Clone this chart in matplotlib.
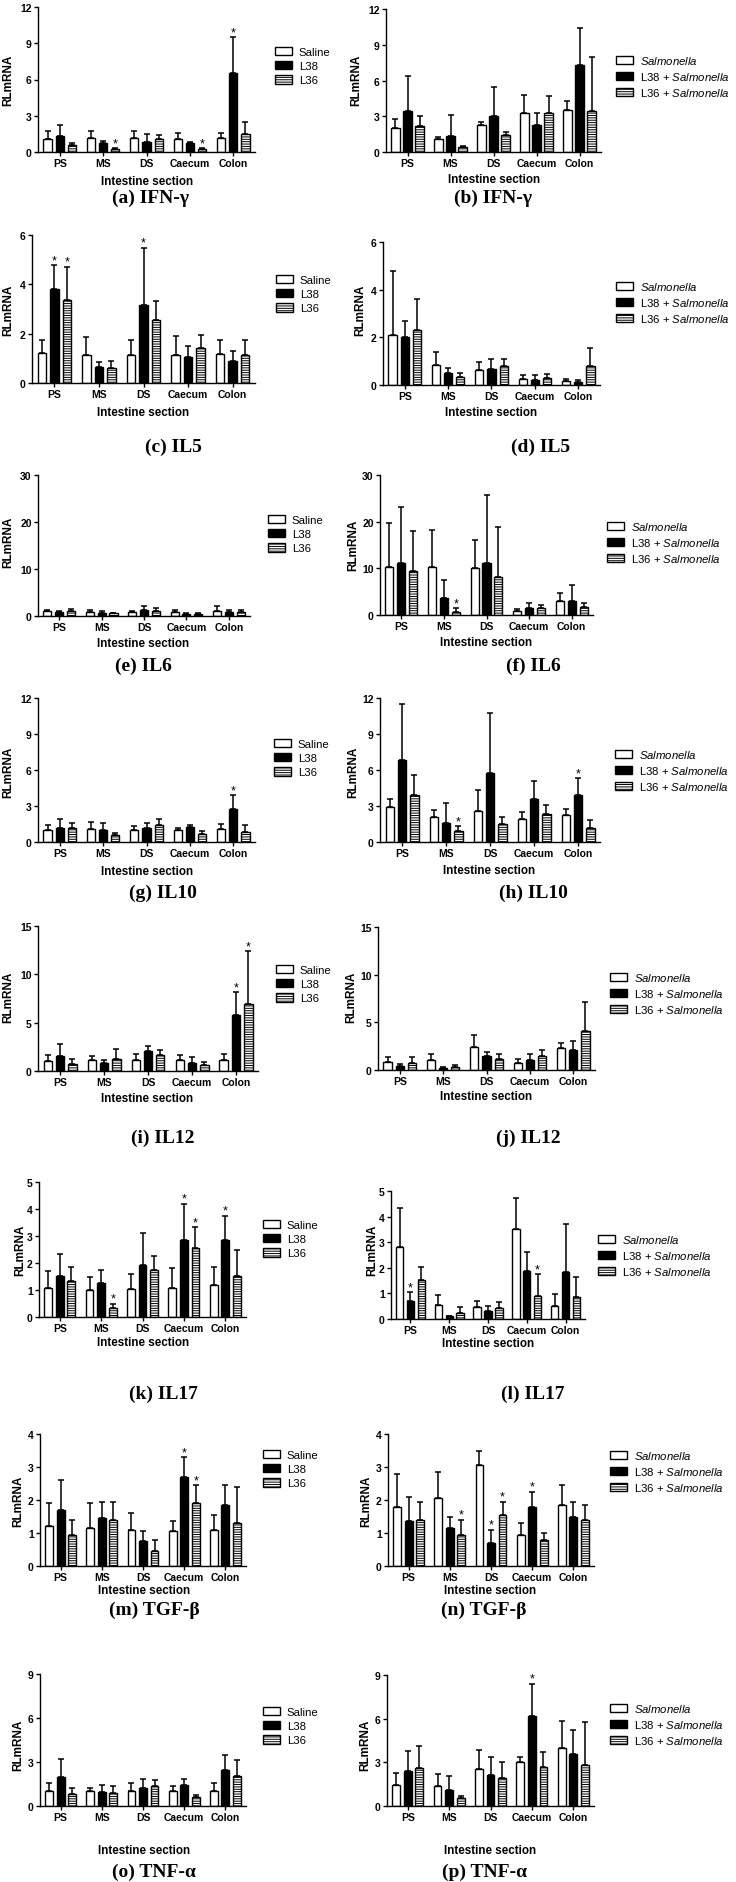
import matplotlib
matplotlib.use('Agg')
import matplotlib.pyplot as plt
from matplotlib.patches import Patch

plt.rcParams['font.family'] = ['Liberation Sans', 'DejaVu Sans']
plt.rcParams['mathtext.fontset'] = 'custom'
plt.rcParams['mathtext.rm'] = 'Liberation Sans'
plt.rcParams['mathtext.it'] = 'Liberation Sans:italic'
plt.rcParams['hatch.linewidth'] = 0.7

# intestine sections (x categories)
sections = ['PS', 'MS', 'DS', 'Caecum', 'Colon']
saline_labels = ['Saline', 'L38', 'L36']
salm_labels = [r'$\mathit{Salmonella}$', r'L38 + $\mathit{Salmonella}$', r'L36 + $\mathit{Salmonella}$']

# each panel: means per group [ctrl, L38, L36] and top of the (upper) error bar
ifng_a = [[1.1, 1.15, 1.15, 1.1, 1.15], [1.3, 0.75, 0.85, 0.75, 6.55], [0.6, 0.28, 1.05, 0.28, 1.45]]
ifng_a_top = [[1.7, 1.7, 1.7, 1.6, 1.6], [2.25, 0.95, 1.45, 0.85, 9.5], [0.75, 0.32, 1.4, 0.32, 2.45]]
ifng_a_stars = [(2, 1), (2, 3), (1, 4)]

ifng_b = [[2.05, 1.05, 2.3, 3.3, 3.5], [3.45, 1.35, 3.05, 2.3, 7.3], [2.2, 0.38, 1.4, 3.3, 3.4]]
ifng_b_top = [[2.75, 1.3, 2.55, 4.8, 4.3], [6.4, 3.1, 5.45, 3.3, 10.4], [3.05, 0.5, 1.7, 4.7, 8.0]]
ifng_b_stars = []

il5_c = [[1.2, 1.13, 1.12, 1.13, 1.16], [3.8, 0.66, 3.15, 1.04, 0.88], [3.37, 0.6, 2.57, 1.43, 1.15]]
il5_c_top = [[1.75, 1.86, 1.73, 1.89, 1.75], [4.78, 0.86, 5.48, 1.51, 1.28], [4.72, 0.88, 3.33, 1.94, 1.75]]
il5_c_stars = [(1, 0), (2, 0), (1, 2)]

il5_d = [[2.1, 0.83, 0.63, 0.27, 0.17], [2.01, 0.52, 0.66, 0.2, 0.12], [2.31, 0.35, 0.78, 0.31, 0.8]]
il5_d_top = [[4.78, 1.4, 0.96, 0.4, 0.24], [2.69, 0.73, 1.08, 0.4, 0.2], [3.59, 0.52, 1.08, 0.45, 1.54]]
il5_d_stars = []

il6_e = [[1.0, 0.9, 0.85, 0.85, 1.0], [0.8, 0.65, 1.2, 0.4, 0.85], [1.0, 0.55, 1.15, 0.45, 0.8]]
il6_e_top = [[1.35, 1.2, 1.05, 1.35, 2.05], [1.1, 1.0, 2.05, 0.55, 1.3], [1.4, 0.7, 1.7, 0.55, 1.25]]
il6_e_stars = []

il6_f = [[10.2, 10.2, 10.0, 0.95, 3.05], [11.05, 3.55, 11.05, 1.55, 2.95], [9.5, 0.7, 8.2, 1.45, 1.8]]
il6_f_top = [[19.7, 18.2, 16.15, 1.3, 4.65], [23.1, 7.6, 25.8, 2.55, 6.45], [18.1, 1.45, 18.8, 2.15, 2.55]]
il6_f_stars = [(2, 1)]

il10_g = [[1.03, 1.1, 1.0, 1.0, 1.1], [1.17, 1.03, 1.17, 1.25, 2.78], [1.17, 0.55, 1.4, 0.67, 0.83]]
il10_g_top = [[1.45, 1.65, 1.33, 1.17, 1.47], [1.95, 1.55, 1.6, 1.45, 3.9], [1.6, 0.78, 1.95, 0.92, 1.39]]
il10_g_stars = [(1, 4)]

il10_h = [[2.94, 2.05, 2.55, 1.94, 2.22], [6.87, 1.6, 5.76, 3.6, 3.88], [3.88, 0.89, 1.52, 2.33, 1.19]]
il10_h_top = [[3.6, 2.66, 4.3, 2.49, 2.77], [11.5, 3.24, 10.75, 5.12, 5.32], [5.6, 1.33, 2.08, 3.1, 1.8]]
il10_h_stars = [(2, 1), (1, 4)]

il12_i = [[1.04, 1.14, 1.11, 1.11, 1.14], [1.56, 0.8, 2.08, 0.87, 5.78], [0.76, 1.28, 1.63, 0.59, 6.93]]
il12_i_top = [[1.63, 1.56, 1.73, 1.63, 1.77], [2.84, 1.14, 2.6, 1.45, 8.14], [1.21, 2.25, 2.15, 0.94, 12.37]]
il12_i_stars = [(1, 4), (2, 4)]

il12_j = [[0.84, 1.05, 2.46, 0.77, 2.35], [0.42, 0.25, 1.48, 1.05, 2.07], [0.77, 0.35, 1.19, 1.48, 4.04]]
il12_j_top = [[1.4, 1.65, 3.69, 1.19, 2.81], [0.6, 0.35, 1.93, 1.72, 3.06], [1.33, 0.53, 1.69, 2.1, 7.1]]
il12_j_stars = []

il17_k = [[1.07, 0.99, 1.05, 1.09, 1.17], [1.51, 1.27, 1.91, 2.84, 2.84], [1.33, 0.33, 1.73, 2.56, 1.53]]
il17_k_top = [[1.7, 1.47, 1.58, 1.83, 1.85], [2.35, 1.75, 3.12, 4.2, 3.74], [1.85, 0.49, 2.27, 3.33, 2.47]]
il17_k_stars = [(2, 1), (1, 3), (2, 3), (1, 4)]

il17_l = [[2.81, 0.55, 0.48, 3.51, 0.52], [0.72, 0.1, 0.33, 1.89, 1.83], [1.54, 0.22, 0.42, 0.89, 0.87]]
il17_l_top = [[4.32, 0.94, 0.72, 4.74, 0.97], [1.05, 0.13, 0.52, 2.61, 3.71], [2.02, 0.48, 0.68, 1.74, 1.66]]
il17_l_stars = [(1, 0), (2, 3)]

tgfb_m = [[1.2, 1.15, 1.1, 1.05, 1.1], [1.7, 1.45, 0.75, 2.7, 1.85], [0.95, 1.4, 0.45, 1.9, 1.3]]
tgfb_m_top = [[1.9, 1.9, 1.6, 1.35, 1.55], [2.6, 1.95, 1.05, 3.3, 2.45], [1.4, 1.95, 0.8, 2.45, 2.4]]
tgfb_m_stars = [(1, 3), (2, 3)]

tgfb_n = [[1.8, 2.05, 3.05, 0.95, 1.85], [1.35, 1.15, 0.7, 1.8, 1.5], [1.4, 0.95, 1.55, 0.8, 1.4]]
tgfb_n_top = [[2.8, 2.85, 3.5, 1.3, 2.45], [2.1, 1.5, 1.1, 2.25, 1.95], [1.95, 1.4, 1.95, 1.0, 1.85]]
tgfb_n_stars = [(2, 1), (1, 2), (2, 2), (1, 3)]

tnfa_o = [[1.05, 1.0, 1.05, 1.0, 1.05], [2.0, 0.95, 1.2, 1.45, 2.45], [0.85, 0.9, 1.35, 0.6, 2.05]]
tnfa_o_top = [[1.6, 1.25, 1.55, 1.35, 1.6], [3.2, 1.4, 1.85, 1.85, 3.45], [1.25, 1.35, 1.75, 0.75, 3.15]]
tnfa_o_stars = []

tnfa_p = [[1.45, 1.4, 2.55, 3.05, 4.0], [2.4, 1.1, 2.15, 6.15, 3.6], [2.6, 0.55, 1.95, 2.65, 2.8]]
tnfa_p_top = [[2.3, 2.2, 3.85, 3.4, 5.85], [3.8, 2.05, 3.4, 8.4, 5.2], [4.15, 0.7, 3.0, 3.7, 5.75]]
tnfa_p_stars = [(1, 3)]

W, H = 736, 1883

# (means, tops, stars, ymax, ystep, legend labels, axes box px (x0, x1, ytop, y0),
#  legend px, ylabel px, xlabel px, caption px, caption)
panels = [
    (ifng_a, ifng_a_top, ifng_a_stars, 12, 3, saline_labels, (38, 255, 8, 153), (275, 55), (8, 80), (147, 182), (150, 198), '(a) IFN-γ'),
    (ifng_b, ifng_b_top, ifng_b_stars, 12, 3, salm_labels, (386, 601, 10, 153), (616, 62), (356, 80), (494, 180), (493, 198), '(b) IFN-γ'),
    (il5_c, il5_c_top, il5_c_stars, 6, 2, saline_labels, (32, 255, 236, 384), (276, 283), (8, 310), (143, 413), (173, 447), '(c) IL5'),
    (il5_d, il5_d_top, il5_d_stars, 6, 2, salm_labels, (383, 600, 243, 386), (616, 288), (360, 310), (491, 413), (541, 447), '(d) IL5'),
    (il6_e, il6_e_top, il6_e_stars, 30, 10, saline_labels, (38, 250, 476, 617), (268, 523), (8, 542), (143, 644), (143, 666), '(e) IL6'),
    (il6_f, il6_f_top, il6_f_stars, 30, 10, salm_labels, (380, 593, 476, 616), (607, 528), (353, 545), (486, 643), (533, 666), '(f) IL6'),
    (il10_g, il10_g_top, il10_g_stars, 12, 3, saline_labels, (38, 255, 699, 843), (274, 747), (8, 772), (147, 872), (163, 893), '(g) IL10'),
    (il10_h, il10_h_top, il10_h_stars, 12, 3, salm_labels, (380, 600, 699, 843), (615, 756), (353, 772), (489, 871), (533, 893), '(h) IL10'),
    (il12_i, il12_i_top, il12_i_stars, 15, 5, saline_labels, (38, 258, 927, 1072), (276, 973), (8, 997), (147, 1099), (163, 1138), '(i) IL12'),
    (il12_j, il12_j_top, il12_j_stars, 15, 5, salm_labels, (378, 595, 928, 1071), (610, 979), (351, 997), (486, 1097), (528, 1138), '(j) IL12'),
    (il17_k, il17_k_top, il17_k_stars, 5, 1, saline_labels, (39, 246, 1183, 1318), (263, 1228), (20, 1250), (143, 1343), (163, 1394), '(k) IL17'),
    (il17_l, il17_l_top, il17_l_stars, 5, 1, salm_labels, (391, 585, 1192, 1320), (598, 1241), (372, 1250), (488, 1344), (533, 1394), '(l) IL17'),
    (tgfb_m, tgfb_m_top, tgfb_m_stars, 4, 1, saline_labels, (40, 246, 1435, 1567), (263, 1458), (18, 1501), (144, 1591), (154, 1610), '(m) TGF-β'),
    (tgfb_n, tgfb_n_top, tgfb_n_stars, 4, 1, salm_labels, (388, 594, 1435, 1567), (610, 1457), (366, 1501), (490, 1591), (484, 1610), '(n) TGF-β'),
    (tnfa_o, tnfa_o_top, tnfa_o_stars, 9, 3, saline_labels, (40, 246, 1675, 1807), (263, 1715), (18, 1745), (144, 1851), (154, 1872), '(o) TNF-α'),
    (tnfa_p, tnfa_p_top, tnfa_p_stars, 9, 3, salm_labels, (387, 594, 1676, 1807), (610, 1710), (365, 1745), (490, 1851), (484, 1872), '(p) TNF-α'),
]

colors = ['white', 'black', 'white']
hatches = [None, None, '-------']
offsets = [-0.28, 0.0, 0.28]

fig = plt.figure(figsize=(W / 100, H / 100), dpi=100)

for means, tops, stars, ymax, ystep, labels, box, leg, ylab, xlab, cap, caption in panels:
    x0, x1, ytop, yzero = box
    ax = fig.add_axes([x0 / W, 1 - yzero / H, (x1 - x0) / W, (yzero - ytop) / H])
    for g in range(3):
        xs = [i + offsets[g] for i in range(len(sections))]
        up = [t - m for t, m in zip(tops[g], means[g])]
        ax.bar(xs, means[g], width=0.19, color=colors[g], edgecolor='black', linewidth=1.0,
               hatch=hatches[g], yerr=[[0] * len(up), up], capsize=2.5,
               error_kw=dict(elinewidth=1.1, capthick=1.1, ecolor='black'), zorder=2)
    for g, s in stars:
        ax.annotate('*', (s + offsets[g], tops[g][s]), xytext=(0, 1.5), textcoords='offset points',
                    ha='center', va='baseline', fontsize=9)
    ax.set_xlim(-0.5, 4.5)
    ax.set_ylim(0, ymax)
    ax.set_yticks(range(0, ymax + 1, ystep))
    ax.set_xticks(range(len(sections)))
    ax.set_xticklabels(sections, fontweight='bold')
    for t in ax.get_yticklabels():
        t.set_fontweight('bold')
    ax.tick_params(axis='both', direction='out', length=3, width=1, labelsize=7.5, pad=1.5)
    ax.spines['top'].set_visible(False)
    ax.spines['right'].set_visible(False)
    ax.spines['left'].set_linewidth(1.0)
    ax.spines['bottom'].set_linewidth(1.0)
    ax.patch.set_visible(False)

    handles = [Patch(facecolor=colors[g], edgecolor='black', hatch=hatches[g], linewidth=1.0) for g in range(3)]
    fig.legend(handles, labels, loc='upper left', bbox_to_anchor=(leg[0] / W, 1 - (leg[1] - 7) / H),
               frameon=False, fontsize=8.2, handlelength=1.5, handleheight=0.75, handletextpad=0.6,
               labelspacing=0.35, borderpad=0, borderaxespad=0)

    fig.text(ylab[0] / W, 1 - ylab[1] / H, 'RLmRNA', rotation=90, ha='center', va='center',
             fontsize=8.5, fontweight='bold')
    fig.text(xlab[0] / W, 1 - xlab[1] / H, 'Intestine section', ha='center', va='center',
             fontsize=8.4, fontweight='bold')
    fig.text(cap[0] / W, 1 - cap[1] / H, caption, ha='center', va='center', fontsize=14,
             fontweight='bold', family=['Liberation Serif', 'DejaVu Serif'])

fig.savefig('out.png', dpi=100)
